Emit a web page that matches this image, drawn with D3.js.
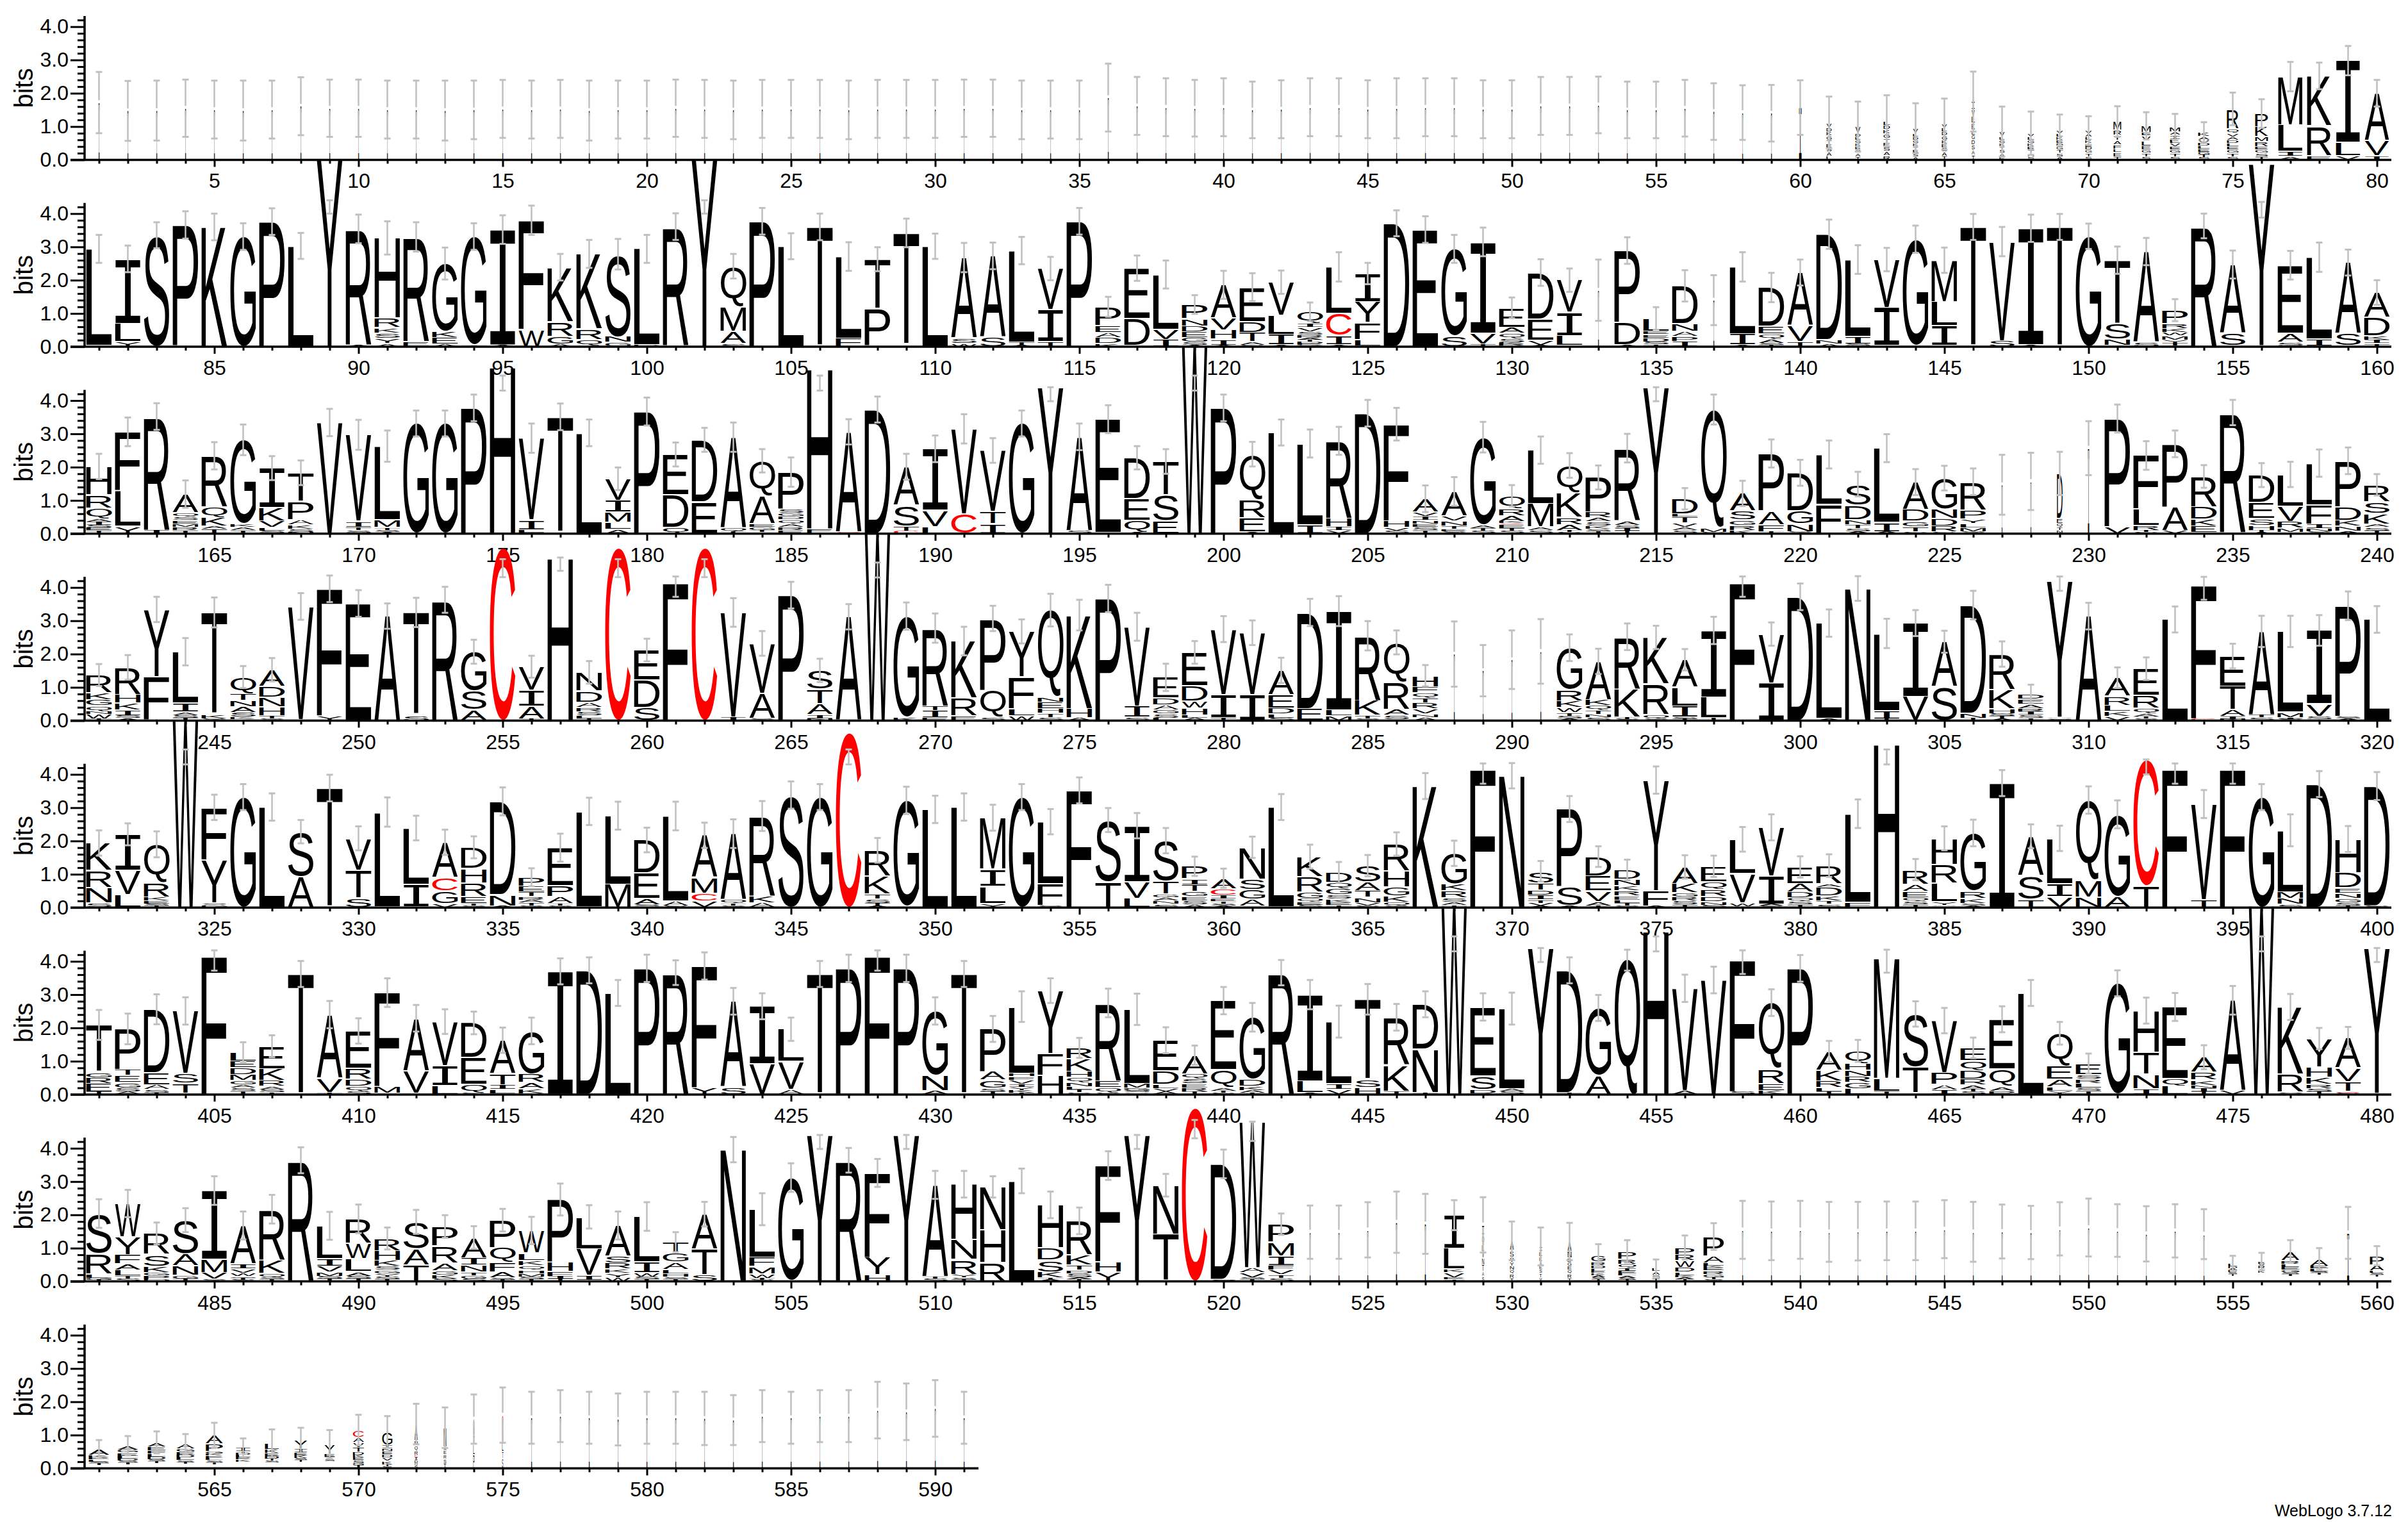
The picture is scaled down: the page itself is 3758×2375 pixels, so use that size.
<!DOCTYPE html>
<html>
<head>
<meta charset="utf-8">
<script src="https://cdn.jsdelivr.net/npm/d3@7"></script>
<style>
body { margin: 0; background: #fff; }
text { font-family: "Liberation Sans", Arial, sans-serif; }
</style>
</head>
<body>
<svg id="chart" width="3758" height="2375"></svg>
<script>
// one string per position, letters from the bottom of the stack up, heights in bits ("_" = empty space)
var stacks = [
// 1-80
"I1.72","I1.47","I1.48","I1.55","I1.51","I1.48","I1.51","I1.61","I1.55","I1.55","I1.51","I1.51","I1.48","I1.5","I1.53","I1.51","I1.53","I1.48","I1.51","I1.51",
"I1.55","I1.53","I1.5","I1.53","I1.53","I1.53","I1.5","I1.53","I1.53","I1.53","I1.55","I1.55","I1.5","I1.51","I1.5","I1.87","I1.62","I1.58","I1.55","I1.58",
"I1.5","I1.52","I1.58","I1.58","I1.52","I1.55","I1.58","I1.58","I1.52","I1.52","I1.62","I1.62","I1.65","I1.5","I1.5","I1.55","I1.45","I1.42","I1.4","I1.57",
"L.12A.12S.12E.12T.12G.12K.12D.12V.16","T.1A.1S.1E.1K.1G.1L.1D.1V.2","R.13A.13S.13E.13T.13G.13K.13D.13L.13","A.1S.1E.1T.1K.1G.1D.1L.1V.15","T.12A.12S.12E.12K.12G.12D.12L.11V.12","T.15A.15S.15D.15G.15E.15K.2L.2V.2I.25","E.1A.1S.1T.1K.1G.1L.1V.15","S.1A.1T.1E.1K.1G.1L.1V.1",
"A.1S.1T.1G.1D.09E.1K.1L.1V.1","S.1T.1G.1D.09E.1K.1L.1A.1V.09","T.1E.12L.1F.13A.13Y.16R.16M.25","S.1T.1G.1E.12L.14V.16E.1M.2","S.1T.1G.1E.1V.1L.12I.12A.1M.14","S.08T.08G.08E.08L.1D.08V.1A.1K.13","S.1T.1G.1E.1L.1D.1A.1V.1Q.13R.6","T.1S.1G.1E.1R.15M.14K.3P.4",
"A.1I.15L.8M1.45","E.12R.9K1.5","V.12L.4I2.46","I.12V.46A1.42",
// 81-160
"A.04L2.9","Y.15L.55I1.94","S3.35","A.03P3.63","K3.6","G3.31","P3.76","L3.03","Y5.62","A.05R3.49","A.1Y.15S.17K.15R.3H2.4","E.15R3.15","A.08E.2K.17G2.05","I.05G3.26","A.05I3.47","W.52F3.28","A.08G.23R.45K1.63","A.02Q.2R.32K2.25","G.13N.17S2.48","D.05L2.89",
"A.03R3.58","Y5.62","S.1A.37M.72Q1.23","P3.77","L3.02","T3.6","F.25L2.46","A.03P1.1T1.5","A.04T3.38","L3.02","W.1S.16A2.42","S.3A2.43","A.05T.08L2.76","T.15I.96V1.24","P3.77","K.1D.17A.15E.22P.56","A.04D.8E1.52","I.22V.3L1.65","A.05S.08G.15E.17D.17N.22P.43","A.05I.18H.28V.36A.99",
"S.05A.1T.28D.33E1.03","A.05I.32L.57V1.0","G.05E.05D.05T.06A.06R.08S.1V.13I.12Q.35","A.05I.28C.67L1.4","A.03L.18F.52Y.62I.85","D3.71","E3.52","S.32G2.62","T.08V.33I2.74","A.03R.05K.05S.11Q.16A.18E.59","A.05V.15E.63D1.4","T.03L.3I.7V.97","I1.7","A.05D.68P2.16","T.07S.08D.12E.1E.1L.38","I.17P.14A.15N.23D1.14","I1.4","A.05I.34L2.01","T.05S.05A.12Q.16E.23D1.17","T.16V.48A1.59",
"A.08N.13D3.17","A.03S.05I.22L2.32","A.03I1.15V1.44","A.03G3.2","A.03I.6L.72M1.25","T3.6","S.18V2.98","A.06I3.5","T3.6","G3.32","C.04N.18S.47T1.91","S.14A2.72","A.03T.08Y.1M.12W.1K.12R.15P.4","R3.63","A.03S.38A2.06","T.03Y5.47","T.03S.1A.27E2.05","A.03I.2L2.46","T.03S.37A2.13","T.1I.1K.13D.55A.75",
// 161-240
"T.1E.08S.08I.1A.08Q.33R.4H.85","Y.22L1.08F1.76","I.1R3.42","T.1R.1M.1E.1S.1Q.13A.56","T.15A.08K.25Q.33R1.53","T.1A.1K.1G2.52","A.03S.05L.1V.2K.4I1.19","N.05S.08K.13A.16P.54T.87","V3.34","A.03S.07T.1I.17V2.6","A.05S.06T.07M.23L2.22","G3.31","G3.31","P3.78","H5.0","T.03L.08I.3V2.46","A.03T3.48","L3.03","A.12L.22M.3I.36V.65","P3.67",
"Q.18D.98E1.22","E.96D1.86","T.06Q.1A2.74","S.04T.06G.1E.1A.83Q1.06","E.1R.1A.1Q.12D.1G.1S.13P1.1","E.14H4.8","C.05A3.01","D3.73","C.08T.14S.64A1.15","L.21V.49I1.85","C.6V2.55","I.3T.36V1.84","G3.31","Y4.4","S.1A2.81","A.03E3.41","A.05Q.35E.65D1.23","E.38S.78T1.01","W5.68","P3.78",
"A.05E.43R.55Q1.36","L3.04","I.27L2.44","V.1I.1H.25R2.34","D3.62","S.08V.1H.2F2.91","T.1S.1E.1N.1I.12V.13A.4","S.07E.07T.1N.15V.15A.73","S.08T.08A.1G2.64","S.08T.08E.12C.04K.05A.17R.2Q.4","S.1A.1M.7L1.61","S.05T.05A.17R.22K.72Q.84","T.07S.07K.1S.12A.12R.17P1.04","T.08I.08S.1A.12R2.19","Y4.4","S.1A.1V.13T.17L.1D.45","S.05M.13Q3.55","K.1R.15G.17S.26A.53","T.06F.2A.42P1.73","S.06N.23G.4D1.14",
"F.88L1.5","A.07S.08T.13N.14D.44S.63","A.06I.28L2.23","S.05T.15G.17D.35A.83","S.05R.17D.24N.28G.93","S.06M.12L.13Y.13P.27R.85","I1.47","I1.57","N.1T.1Q.1E.16D1.35","I2.57","V.2P3.26","S.05T.05R.14L.5F1.61","V.1A.7P1.9","S.03E.2K.2D.38R.91","A.03R3.61","A.05T.05H.15S.2E.48D.83","A.04M.12R.2V.47L.95","S.07N.08I.13F.58L1.26","A.07N.15K.18D.41P1.38","T.09S.1A.1K.31S.35R.52",
// 241-320
"T.05W.15N.08Q.17G.18K.2R.54","A.07S.08I.16K.21H.26R.82","A.03F1.29Y2.02","T.08S.08A.1I.27L1.54","S.06K.12T3.07","T.04K.06S.15A.17N.18T.2Q.51","S.06T.08H.27N.29D.33A.5","T.03V3.4","Y.14F3.82","E3.52","A3.14","S.16T3.09","R3.63","A.32S.58G1.17","C5.2","T.05A.38I.48V.71","H4.87","T.05L.1S.12R.13A.15D.34N.56","C5.2","S.4D.82E.9",
"F4.13","C5.2","I.1V3.15","S.07A.75V1.5","P3.77","N.06I.12A.33T.43S.57","A3.12","W5.65","K.1G3.04","E.08I.22T.14R2.34","E.15R.53K1.71","S.08Q.84P2.15","W.14L.22F.95Y1.37","S.1T.12H.14E.2N.14Q2.62","A.08H.28K2.81","P3.67","S.1I.34V2.38","L.08S.12G.12A.16D.2E.62","A.08L.08H.22W.2D.46E1.01","T.08I.7V1.97",
"I.77V1.87","S.08L.12D.18E.4A.73","E.36D2.89","M.15L.17I2.97","S.06T.1K.45R1.94","T.04S.12A.17R.82Q1.2","A.1N.1V.16R.17T.14Q.17F.17H.34","I2.0","I1.5","I1.83","I2.08","A.06S.08T.1W.15K.2R.35G1.25","S.1N.08T.13Q.14K.18A1.15","S.05T.05K.86R1.56","S.06Q.12R.92K1.4","T.05S.05I.34L.56A.83","S.03T.05L.62I2.01","F4.13","I1.12V1.48","D3.72",
"A.06L2.87","N3.97","T.05I.25L2.32","V.72I2.21","S1.03A1.34","A.03T.05N.14D3.25","A.05T.08S.08H.15K.57R1.07","T.07S.1I.1R.1A.13E.15D.15","T.03S.03A.04Y4.1","A3.14","V.13K.15L.18R.27A.56","S.06T.06A.1Q.15R.38E.81","L3.04","C.05F4.01","N.05I.07A.2T.71E.91","S.1T.08A2.5","S.05I.05M.15L2.43","A.03S.1V.37I2.21","A.05S.07P3.33","L3.04",
// 321-400
"S.13N.46R.52K.83","L.38V.74I1.08","T.05S.05E.1K.11R.44Q1.15","W5.63","G.1S.03Y1.3F1.58","G3.32","L3.02","A.92S1.36","T3.59","S.28T.84V.96","S.03L2.84","T.02I.68L1.69","V.12G.38C.4A1.06","S.06T.06E.2R.42H.44D.63","A.05N.33D2.81","S.06T.08A.09R.1T.14E.17P.27","S.06T.06A.2P.34E1.14","A.03L2.86","M.7L2.06","T.04S.05A.18E.77D.99",
"S.05A.15L2.55","V.19C.24M.47A1.27","S.06T.06Q.12A1.98","A.14K.2R2.41","S3.38","G3.32","C5.26","A.05T.08S.12T.16K.53R.78","T.03G3.19","L2.95","L3.02","Y.12L.52I.52M1.54","G3.32","S.06F.66L1.86","F3.52","T.76S1.87","L.28V.5I1.68","S.1N.1A.1G.1T.39S1.22","A.08S.12E.13G.15T.2I.18P.38","A.05S.07T.07E.07I.1C.2A.32",
"T.04A.2G.29S.32N.96","A.03L2.99","S.08E.08Q.12G.18R.47K.6","T.07E.08K.1S.14G.18Q.18D.31","S.05V.1N.16T.2A.25S.5","S.06Q.1K.18G.28H.48R.81","K3.65","T.07A.1S.13R.2K.2G.93","F4.14","N3.96","A.05V.08T.1I.15D.15T.2S.36","A.05S.58P2.33","T.05A.13V.32E.45D.58","S.06T.08L.08E.13R.15K.15N.19D.29","A.05F.46Y3.32","T.08S.12R.12G.12K.28A.5","S.08N.1D.15R.22Q.22E.47","S.04W.1V.89L1.02","S.05A.05I.84V1.47","T.08S.1Q.12D.17A.25E.5",
"S.1T.1K.15D.26A.1R.55","F.16L2.66","H4.9","T.08S.1Q.12E.18A.22R.44","S.04A.04Y.1L.55R.56H.79","A.06S.06K.15R.22G1.75","I3.74","T.25S.72A1.17","V.32I.4L1.36","N.31M.52Q2.4","A.34G2.46","T.65C3.8","F4.14","T.24V2.87","F4.14","G3.32","S.1N.17M.2L1.85","D3.71","T.05S.1G.13N.16E.16D.45H1.01","S.05D3.6",
// 401-480
"T.08E.25R.17G.17T1.42","A.08S.12G.17E.2T.17P1.23","T.05S.1A.14E.36D1.91","A.03T.3S.3V1.88","F4.14","T.1S.1A.1G.12M.18D.2E.2L.27","T.06S.08A.1R.18K.35E.68","T3.62","T.06V.44A1.9","S.08Q.17D.2R.33E1.13","A.03M.2F2.83","C.03V.68A1.58","L.27I.6V1.32","S.05Q.26E.8D1.04","C.03L.13I.13T.35A.99","C.03K.15A.18R.26G1.29","I3.7","D3.73","L3.05","P3.79",
"R3.66","Y.2F3.66","S.23A2.57","V.92I1.73","A.15V.84L.97","T3.62","P3.79","F4.14","P3.79","A.12N.45G1.94","T3.62","T.08S.1G.25A.25P1.29","T.05K.08Y.1I.08V.13F.1H.1L2.0","H.58F.65Y1.89","S.06T.08L.1N.13Q.15H.17K.38R.33","S.06Q.15E.2R2.34","T.03A.03S.05G.05D.03M.14L2.23","A.08V.1L.13D.4E.92","T.08R.12E.12S.15Q.15A.56","S.05T.06A.08Q.55E2.08",
"T.05A.08K.12D.2G1.87","R3.66","A.05L.36I2.59","V.15I.17L1.87","H.2S.25T2.41","T.1K.78R1.44","T.06N1.3D1.35","W5.68","A.03D.12S.41E2.07","S.08A.08L2.42","Y4.4","T.05D3.68","A.57G2.03","Q4.09","H4.9","A.12V3.07","V3.44","S.08F3.95","K.12E.2R.45Q1.99","P3.79",
"T.08L.12R.2K.33A.56","L.18G.18R.18N.18H.2Q.39","T.1L.38M3.61","S.04T.78S1.6","I.14A.16P.35V1.57","S.08T.08A.12R.18D.26Q.3E.38","P.1A.13Q.53E1.5","L3.05","Y.1L.12A.24E.4Q.98","T.1S.1L.14R.13S.12E.34","G3.34","I.17N.43T.66H1.26","L.25Q.22E2.16","T.08I.1N.1K.15R.24A.45","V.11A2.72","W5.68","T.04S.04R.54K2.01","T.08S.1R.13K.2H.32Y.85","S.05C.03T.3V.42A.9","T.03Y4.37",
// 481-560
"T.05G.05L.13R.62S1.19","S.08T.08L.18A.18F.28Y.54W1.0","D.05P.12G.1K.18S.36R.63","T.08G.1N.29A.35S1.02","S.06V.2M.4I2.07","S.05T.05Q.05W.1V.13I.15A1.15","T.06S.06Q.13K.4R1.52","R3.64","T.08S.08M.12V.17I.24L.98","T.08S.08A.13L.39W.47R.73","T.06S.08Y.1G.1S.11K.17H.3R.37","T.5A.48S.81","S.08K.12G.12A.23R.52P.58","S.08G.1T.1N.21I.22A.61","T.05S.06A.17F.29Q.45P.82","T.06S.08M.1H.1Q.13K.16L.22W.68","T.08I.08F.14H.28P1.88","A.03I.15V.8L.96","W.12Y.12K.13R.17S.22A.92","T.06S.08W.12I.32L1.37",
"T.07S.07H.1L.12A.22G.27T.33","S.2T.78A1.04","N3.96","S.05T.05W.13M.22F.28L1.44","T.03G3.09","Y4.4","R3.64","H.2Y.53F2.53","Y4.4","S.08T.07A2.75","T.05S.06Y.1R.45N.6H1.66","R.57H.98N1.29","L3.02","A.05T.05K.18S.36D.37H1.29","T.06A.06S.12D.1T.15K.3R1.03","Y.28H.3F2.9","Y4.4","T1.41N1.48","C5.22","T.03S.03D3.47",
"T.06S.06V.14A.15W4.39","S.1T.1V.14F.14I.29M.41P.54","I1.48","I1.48","I1.55","I1.78","I1.73","S.03T.04E.05V.15K.1L.62I1.0","S.15A.15T.2N.2V.2L.2Q.3I.3","T.1R.12Q.12N.12Y.12V.15S.2A.29","V.12T.12S.12E.12A.12K.15L.15I.15","T.1R.12Q.12E.12G.12D.12N.2A.3","T.06S.06A.06K.07E.07L.07D.1R.1G.2","T.05S.06A.06L.07E.08I.08Q.12R.14P.24","T.1S.1A.1L.1","T.06A.06K.06L.1D.14W.2R.18P.22","S.06T.06G.1R.1E.1K.05L.08A.22P.58","I1.55","I1.52","I1.55",
"I1.49","I1.51","I1.52","I1.52","I1.57","I1.49","I1.5","I1.47","I1.58","I1.62","I1.53","I1.43","I1.52","I1.42","_.15T.06S.06E.06A.06D.06L.1","_.25K.07A.07R.08V.06E.07","_.15T.06S.07G.07E.08L.1R.1A.27","_.2T.05S.05L.08E.08A.22","I1.46","_.15T.05S.06L.06A.18P.27",
// 561-591
"_.1T.05S.05L.06E.07K.07A.18","_.12T.05S.06D.06L.08E.1G.08A.13","_.15T.06S.06D.08L.08F.1E.12A.13","_.13T.05S.06L.08D.08E.1G.08A.14","_.12T.05S.07L.07E.07K.07G.05P.23A.27","_.2K.06E.06L.08D.05T.07I.1","_.18S.05T.06D.08E.08K.12L.18","_.2T.05S.06K.08E.08I.12Y.25","_.22S.05T.08E.08Y.29","I.1G.06S.08E.08K.08D.08T.15V.14A.16C.22",
"S.06T.06K.1V.1D.1E.1N.07I.1G.4","S.08Q.08D.08I.08C.08R.13Q.15N.15A.5","T.14S.14R.13E.13A.1N.58","P.4L.3T.3A.48","S.3T.2L.3C.8","I1.52","I1.57","I1.52","I1.47","I1.52",
"I1.52","I1.5","I1.45","I1.57","I1.52","I1.57","I1.57","I1.75","I1.7","I1.8","I1.52"
];

// half length of the error bar at each position, in bits
var errHalf = [
.92,.9,.9,.86,.87,.9,.87,.87,.86,.86,.87,.87,.9,.88,.87,.87,.87,.9,.87,.87,
.86,.87,.88,.87,.87,.87,.88,.87,.87,.87,.86,.86,.88,.87,.88,1.02,.87,.87,.85,.87,
.85,.87,.87,.87,.87,.9,.87,.87,.87,.87,.87,.87,.85,.85,.85,.85,.85,.82,.85,.82,
.78,.75,.77,.75,.77,.9,.75,.65,.47,.43,.46,.41,.4,.3,.49,.43,.44,.4,.44,.4,
.42,.4,.39,.41,.4,.4,.4,.39,.2,.43,.5,.44,.48,.4,.43,.44,.4,.42,.46,.42,
.4,.2,.37,.4,.39,.4,.43,.36,.43,.38,.44,.4,.41,.35,.4,.3,.38,.42,.28,.42,
.42,.35,.28,.44,.32,.39,.4,.42,.43,.31,.4,.35,.92,.4,.34,.47,.75,.44,.44,.39,
.44,.43,.35,.41,.38,.39,.44,.41,.39,.38,.41,.41,.33,.37,.42,.2,.43,.44,.39,.37,
.38,.43,.4,.41,.41,.46,.36,.37,.41,.45,.47,.39,.39,.4,.2,.44,.4,.4,.34,.42,
.36,.36,.44,.35,.44,.2,.38,.39,.39,.4,.44,.37,.39,.2,.4,.42,.35,.37,.2,.4,
.37,.39,.42,.42,.4,.49,.4,.43,.46,.32,.41,.37,.36,.43,.2,.32,.45,.38,.42,.39,
.42,.37,.42,.39,.37,.4,.9,.86,.65,.81,.42,.43,.4,.34,.38,.36,.38,.41,.4,.32,
.33,.37,.38,.41,.45,.33,.35,.4,.4,.4,.38,.44,.39,.36,.2,.33,.2,.34,.2,.34,
.3,.2,.43,.37,.4,.35,.38,.2,.41,.44,.43,.38,.36,.49,.46,.41,.42,.41,.34,.39,
.37,.38,.41,.45,.44,.36,.32,.98,.77,.88,.97,.4,.38,.4,.35,.32,.41,.3,.35,.4,
.41,.37,.44,.39,.33,.43,.38,.28,.2,.4,.31,.34,.39,.3,.37,.47,.47,.46,.43,.4,
.38,.33,.39,.2,.38,.39,.41,.35,.4,.36,.44,.37,.38,.33,.42,.27,.42,.41,.42,.37,
.43,.38,.43,.45,.41,.39,.2,.37,.41,.41,.41,.39,.39,.38,.39,.36,.38,.38,.29,.29,
.32,.39,.36,.31,.32,.35,.39,.38,.3,.38,.31,.39,.31,.31,.41,.35,.32,.37,.39,.32,
.34,.43,.2,.32,.36,.4,.39,.36,.38,.41,.42,.2,.3,.42,.3,.39,.48,.39,.39,.42,
.45,.46,.45,.41,.3,.3,.33,.39,.41,.38,.43,.4,.37,.34,.38,.4,.39,.39,.39,.41,
.37,.41,.4,.39,.35,.39,.41,.3,.41,.41,.39,.39,.46,.37,.3,.43,.47,.39,.29,.41,
.43,.38,.44,.48,.46,.4,.39,.2,.41,.48,.2,.39,.39,.3,.2,.41,.4,.3,.4,.4,
.32,.33,.3,.38,.38,.31,.39,.39,.34,.3,.39,.39,.42,.36,.43,.2,.39,.32,.33,.2,
.43,.41,.33,.36,.43,.42,.43,.39,.42,.43,.33,.36,.34,.34,.34,.41,.48,.35,.42,.43,
.3,.37,.38,.48,.43,.2,.37,.42,.2,.42,.4,.32,.37,.4,.4,.43,.2,.34,.2,.43,
.2,.32,.8,.8,.83,.92,.9,.45,.83,.58,.57,.56,.33,.34,.26,.36,.4,.87,.88,.87,
.9,.88,.88,.88,.87,.9,.81,.8,.8,.87,.79,.83,.8,.75,.22,.26,.34,.32,.78,.29,
.27,.29,.33,.31,.37,.28,.42,.38,.43,.46,.48,.61,.61,.74,.83,.78,.78,.78,.78,.78,
.78,.8,.75,.78,.78,.78,.78,.85,.85,.85,.78
];

// error bars that do not sit on the top of the stack: position -> [low, high]
var offTopBars = {
  89:[4,4.4],102:[4,4.4],156:[3.88,4.35],175:[4.3,4.75],186:[4.3,4.75],194:[3.98,4.4],199:[4.3,4.75],215:[3.98,4.4],
  255:[4.31,4.85],257:[4.5,4.9],259:[4.31,4.85],261:[3.72,4.33],262:[4.31,4.85],268:[4.3,4.75],298:[3.72,4.33],309:[3.9,4.33],314:[3.63,4.32],
  324:[4.3,4.75],347:[4.3,4.75],369:[3.72,4.33],383:[4.3,4.75],392:[4,4.45],393:[3.72,4.33],395:[3.72,4.33],
  405:[3.72,4.33],428:[3.72,4.33],448:[4.3,4.75],451:[3.98,4.4],454:[3.72,4.35],455:[4.3,4.75],458:[3.62,4.33],463:[3.66,4.35],476:[4.3,4.75],480:[3.98,4.4],
  506:[3.98,4.4],509:[3.98,4.4],517:[3.98,4.4],519:[4.3,4.85],521:[4.22,4.8]
};

// fraction of the sequences present, where it is below 1: narrows the column
var occupancy = { 133:.03,137:.03,227:.025,228:.025,229:.22,230:.05,288:.03,289:.03,290:.03,291:.03,
  60:.1,61:.2,62:.2,63:.25,64:.2,65:.2,66:.12,67:.2,68:.25,69:.25,70:.25,71:.3,72:.35,73:.4,74:.45,75:.45,76:.5,77:.95,78:.95,79:.95,80:.95,
  523:.03,524:.03,525:.03,526:.04,527:.04,528:.8,529:.08,530:.15,531:.1,532:.15,533:.55,534:.7,535:.3,536:.75,537:.8,
  555:.35,556:.25,557:.7,558:.7,559:.08,560:.55,
  561:.8,562:.8,563:.7,564:.7,565:.67,566:.57,567:.55,568:.5,569:.4,570:.43,571:.4,572:.12,573:.1,574:.05,575:.05 };
d3.range(1, 60).forEach(function(p){ occupancy[p] = .03; });
d3.range(538, 555).forEach(function(p){ occupancy[p] = .03; });
d3.range(576, 592).forEach(function(p){ occupancy[p] = .03; });

var yMajor = [0, 1, 2, 3, 4];
var yMinor = [.2,.4,.6,.8,1.2,1.4,1.6,1.8,2.2,2.4,2.6,2.8,3.2,3.4,3.6,3.8,4.2];
var perRow = 80;

var svg = d3.select('#chart');
var measure = document.createElement('canvas').getContext('2d');
var glyphBox = {};

function getBox(ch){
    if (!glyphBox[ch]){
        // the I of the logo has bars top and bottom, the mono face has that too
        var font = ch == 'I' ? 'Liberation Mono' : 'Liberation Sans';
        measure.font = '100px "' + font + '"';
        var m = measure.measureText(ch);
        glyphBox[ch] = {font: font, left: -m.actualBoundingBoxLeft, right: m.actualBoundingBoxRight, top: -m.actualBoundingBoxAscent, bottom: m.actualBoundingBoxDescent};
    }
    return glyphBox[ch];
}

function parseStack(s, pos){
    var out = [], sum = 0, m;
    var re = /([A-Z_])([\d.]+)/g;
    while ((m = re.exec(s)) !== null){
        var h = +m[2];
        out.push({pos: pos, ch: m[1], y0: sum, y1: sum + h});
        sum += h;
    }
    return {letters: out, total: sum};
}

var columns = stacks.map(function(s, i){
    var p = parseStack(s, i + 1);
    var off = offTopBars[i + 1];
    return {
        pos: i + 1,
        letters: p.letters,
        total: p.total,
        lo: off ? off[0] : p.total - errHalf[i],
        hi: off ? off[1] : p.total + errHalf[i],
        occ: occupancy[i + 1] === undefined ? 1 : occupancy[i + 1]
    };
});

d3.range(8).forEach(function(r){
    var first = r * perRow + 1;
    var rowCols = columns.filter(function(c){ return c.pos >= first && c.pos < first + perRow; });
    var base = 249.4 + 291.7 * r;
    var x = d3.scaleLinear().domain([first - .5, first + perRow - .5]).range([132, 132 + 45 * perRow]);
    var y = d3.scaleLinear().domain([0, 4.32]).range([base, base - 224.4]);
    var xEnd = x(rowCols[rowCols.length - 1].pos + .5);
    var g = svg.append('g');

    // letters
    var letters = [];
    rowCols.forEach(function(c){ c.letters.forEach(function(l){ if (l.ch != '_') letters.push(l); }); });
    g.append('g').selectAll('text').data(letters).enter().append('text')
        .text(function(d){ return d.ch; })
        .attr('font-size', 100)
        .attr('fill', function(d){ return d.ch == 'C' ? '#ff0000' : '#000000'; })
        .style('font-family', function(d){ return '"' + getBox(d.ch).font + '"'; })
        .attr('transform', function(d){
            var b = getBox(d.ch);
            var w = 40 * columns[d.pos - 1].occ;
            var hpx = y(d.y0) - y(d.y1);
            var pad = Math.min(2.2, hpx * .2);
            var sx = w / (b.right - b.left);
            var sy = (hpx - pad) / (b.bottom - b.top);
            return 'translate(' + (x(d.pos) - w / 2) + ',' + (y(d.y0) - pad / 2) + ') scale(' + sx + ',' + sy + ') translate(' + (-b.left) + ',' + (-b.bottom) + ')';
        });

    // error bars
    var bars = g.append('g').selectAll('g').data(rowCols).enter().append('g').attr('fill', '#c0c0c0');
    bars.append('rect').attr('x', function(d){ return x(d.pos) - 5; }).attr('y', function(d){ return y(d.hi) - 1.5; }).attr('width', 10).attr('height', 3);
    bars.append('rect').attr('x', function(d){ return x(d.pos) - 5; }).attr('y', function(d){ return y(d.lo) - 1.5; }).attr('width', 10).attr('height', 3);
    bars.append('rect').attr('x', function(d){ return x(d.pos) - 1.25; }).attr('width', 2.5)
        .attr('y', function(d){ return y(d.hi); })
        .attr('height', function(d){
            var stop = d.occ < .1 ? d.total + .07 : d.lo;
            return y(stop) - y(d.hi);
        });
    bars.filter(function(d){ return d.occ < .1; }).append('rect').attr('x', function(d){ return x(d.pos) - 1.25; }).attr('width', 2.5)
        .attr('y', function(d){ return y(d.total - .07); })
        .attr('height', function(d){ return y(d.lo) - y(d.total - .07); });

    // y axis
    var yMin = g.append('g').attr('transform', 'translate(132,0)')
        .call(d3.axisLeft(y).tickValues(yMinor).tickSize(11).tickFormat(''));
    var yMaj = g.append('g').attr('transform', 'translate(132,0)')
        .call(d3.axisLeft(y).tickValues(yMajor).tickSize(22).tickPadding(3).tickFormat(d3.format('.1f')));
    yMin.select('.domain').remove();
    yMaj.select('.domain').attr('stroke-width', 3.5).attr('stroke', '#000').attr('d', 'M0,' + y(0) + 'V' + y(4.32));
    [yMin, yMaj].forEach(function(a){ a.selectAll('.tick line').attr('stroke-width', 3).attr('stroke', '#000'); });
    yMaj.selectAll('text').attr('font-size', 32).style('font-family', '"Liberation Sans"').attr('fill', '#000');

    // x axis
    var xAx = g.append('g').attr('transform', 'translate(0,' + base + ')')
        .call(d3.axisBottom(x).tickValues(rowCols.map(function(c){ return c.pos; }))
            .tickFormat(function(d){ return d % 5 == 0 ? d : ''; }));
    xAx.select('.domain').attr('stroke-width', 3.5).attr('stroke', '#000').attr('d', 'M110,0H' + xEnd);
    xAx.selectAll('.tick line').attr('stroke', '#000').attr('stroke-width', 3)
        .attr('y2', function(d){ return d % 5 == 0 ? 11 : 6; });
    xAx.selectAll('text').attr('font-size', 32).style('font-family', '"Liberation Sans"').attr('fill', '#000')
        .attr('y', 44).attr('dy', 0);

    g.append('text').text('bits')
        .attr('transform', 'translate(51,' + (base - 112) + ') rotate(-90)')
        .attr('text-anchor', 'middle').attr('font-size', 40).attr('fill', '#000');
});

svg.append('text').text('WebLogo 3.7.12')
    .attr('x', 3733).attr('y', 2366).attr('text-anchor', 'end').attr('font-size', 25).attr('fill', '#000');

console.log(stacks.length, errHalf.length);
</script>
</body>
</html>
